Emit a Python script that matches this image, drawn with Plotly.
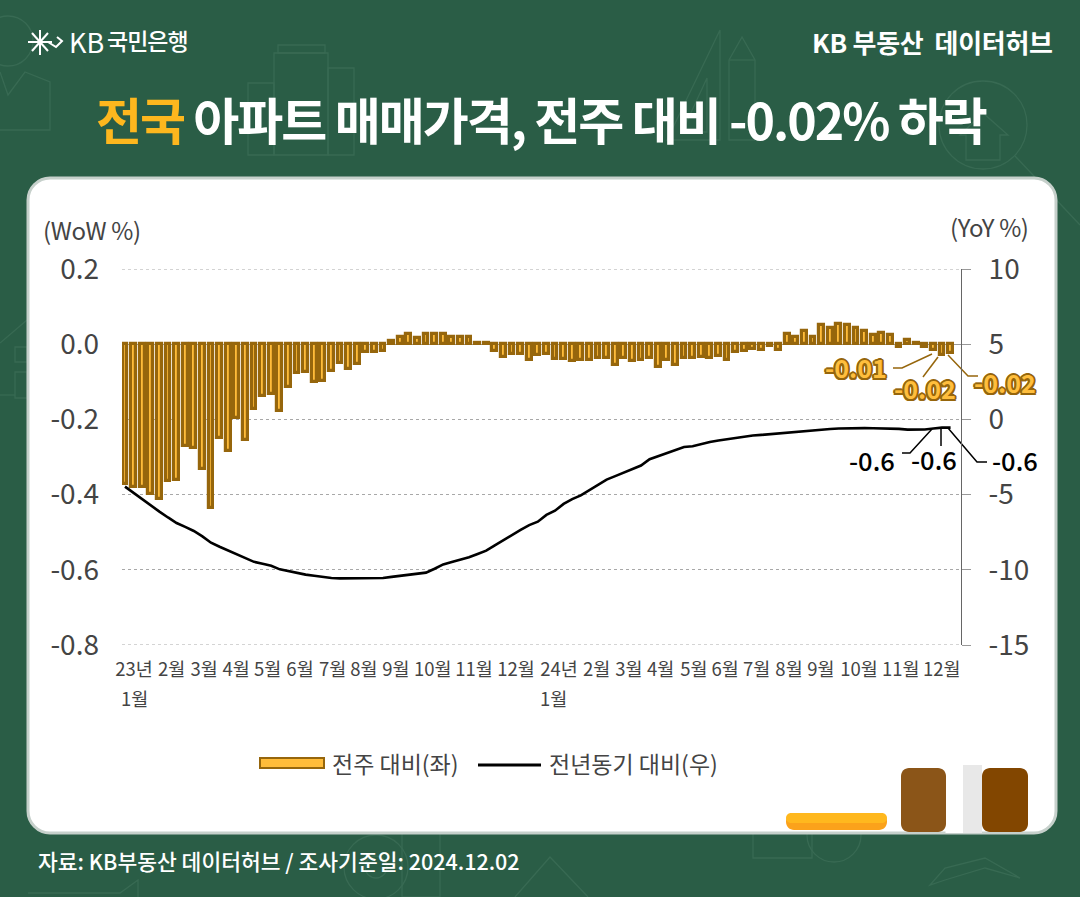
import plotly.graph_objects as go

W, H = 1080, 897
FONT = "Noto Sans CJK KR"

# ---------- data ----------
wow = [-0.372,-0.379,-0.379,-0.398,-0.413,-0.364,-0.361,-0.27,-0.276,-0.332,-0.436,-0.249,-0.283,-0.196,-0.256,
       -0.171,-0.139,-0.132,-0.177,-0.114,-0.076,-0.074,-0.101,-0.099,-0.071,-0.049,-0.065,-0.052,-0.02,-0.02,
       -0.019,0.008,0.02,0.028,0.017,0.028,0.028,0.028,0.02,0.02,0.018,0.004,0.003,-0.017,-0.035,-0.027,-0.025,
       -0.042,-0.03,-0.025,-0.04,-0.04,-0.045,-0.041,-0.042,-0.036,-0.038,-0.055,-0.036,-0.045,-0.041,-0.036,
       -0.061,-0.042,-0.056,-0.038,-0.036,-0.034,-0.036,-0.031,-0.043,-0.02,-0.017,-0.012,-0.015,-0.004,-0.015,
       0.026,0.02,0.036,0.02,0.051,0.042,0.053,0.051,0.042,0.036,0.024,0.031,0.024,-0.008,0.01,0.003,-0.008,
       -0.015,-0.028,-0.024]
yoy = [-4.47,-4.90,-5.33,-5.73,-6.13,-6.52,-6.89,-7.15,-7.42,-7.78,-8.20,-8.47,-8.73,-8.98,-9.22,-9.47,-9.60,
       -9.73,-9.97,-10.10,-10.23,-10.32,-10.40,-10.48,-10.55,-10.57,-10.57,-10.58,-10.57,-10.57,-10.55,-10.47,
       -10.40,-10.33,-10.27,-10.19,-9.93,-9.64,-9.48,-9.33,-9.17,-8.95,-8.73,-8.37,-8.02,-7.67,-7.35,-7.03,-6.80,
       -6.35,-6.07,-5.62,-5.30,-5.05,-4.70,-4.31,-4.00,-3.77,-3.55,-3.33,-3.07,-2.65,-2.45,-2.25,-2.03,-1.84,-1.79,
       -1.63,-1.50,-1.40,-1.31,-1.22,-1.13,-1.07,-1.03,-0.98,-0.92,-0.87,-0.80,-0.75,-0.70,-0.67,-0.64,-0.61,-0.59,
       -0.58,-0.58,-0.59,-0.60,-0.61,-0.63,-0.68,-0.67,-0.67,-0.61,-0.55,-0.55]
weeks = list(range(len(wow)))
month_pos = [1.05,5.43,9.19,12.91,16.59,20.35,24.15,27.79,31.51,35.78,40.58,45.47,
             50.47,54.85,58.6,62.29,66.16,69.77,73.45,77.21,80.93,85.35,90.2,94.97]
month_labels = ["23년","2월","3월","4월","5월","6월","7월","8월","9월","10월","11월","12월",
                "24년","2월","3월","4월","5월","6월","7월","8월","9월","10월","11월","12월"]
left_ticks = [0.2,0.0,-0.2,-0.4,-0.6,-0.8]
left_labels = ["0.2","0.0","-0.2","-0.4","-0.6","-0.8"]
right_ticks = [10,5,0,-5,-10,-15]
right_labels = ["10","5","0","-5","-10","-15"]

# ---------- palette ----------
BG, ICON = "#2A5D46", "#386A53"
BAR_FILL, BAR_LINE = "#FFBC3A", "#96660C"
TXT = "#444444"

# ---------- page-pixel helpers (paper spans the whole page) ----------
X0, X1, Y0, Y1 = 122, 961, 269, 645
def px(x): return x / W
def py(y): return 1 - y / H
def P(pts, close=False):
    s = "M" + " L".join(f"{px(a):.5f},{py(b):.5f}" for a, b in pts)
    return s + (" Z" if close else "")

shapes, notes = [], []
def line_shape(pts, color=ICON, w=1.3, close=False):
    shapes.append(dict(type="path", xref="paper", yref="paper", path=P(pts, close),
                       line=dict(color=color, width=w), layer="below"))
def rect(x0, y0, x1, y1, fill=None, color=ICON, w=1.3):
    shapes.append(dict(type="rect", xref="paper", yref="paper", x0=px(x0), x1=px(x1), y0=py(y0), y1=py(y1),
                       fillcolor=fill or "rgba(0,0,0,0)", line=dict(color=color, width=w), layer="below"))
def circle(cx, cy, r, color=ICON, w=1.3):
    shapes.append(dict(type="circle", xref="paper", yref="paper", x0=px(cx-r), x1=px(cx+r), y0=py(cy+r), y1=py(cy-r),
                       line=dict(color=color, width=w), layer="below"))
def rrect(x0, y0, x1, y1, r, fill, color=None, w=0):
    k = 0.45 * r
    def c(a, b): return f"{px(a):.5f},{py(b):.5f}"
    d = (f"M{c(x0+r,y0)} L{c(x1-r,y0)} C{c(x1-k,y0)} {c(x1,y0+k)} {c(x1,y0+r)} L{c(x1,y1-r)} "
         f"C{c(x1,y1-k)} {c(x1-k,y1)} {c(x1-r,y1)} L{c(x0+r,y1)} C{c(x0+k,y1)} {c(x0,y1-k)} {c(x0,y1-r)} "
         f"L{c(x0,y0+r)} C{c(x0,y0+k)} {c(x0+k,y0)} {c(x0+r,y0)} Z")
    shapes.append(dict(type="path", xref="paper", yref="paper", path=d, fillcolor=fill,
                       line=dict(color=color or fill, width=w), layer="below"))
def text(x, y, s, size, color=TXT, anchor="left", weight=400, shadow=None):
    f = dict(family=FONT, size=size, color=color, weight=weight)
    if shadow: f["shadow"] = shadow
    notes.append(dict(xref="paper", yref="paper", x=px(x), y=py(y), text=s, showarrow=False,
                      xanchor=anchor, yanchor="middle", font=f, borderpad=0, borderwidth=0))
def tight(s, sp, color=None):
    col = f"color:{color};" if color else ""
    return f'<span style="{col}letter-spacing:{sp}px">{s}</span>'

# ---------- faint background icons ----------
circle(8, 41, 25)
line_shape([(0,72),(8,95),(25,72),(50,82),(50,130),(0,130)])
rect(274,53,328,155); rect(278,45,325,53); rect(248,83,274,155); rect(328,68,354,155)
line_shape([(720,30),(667,140),(720,140)], close=True)
line_shape([(707,78),(682,132),(707,132)], close=True)
line_shape([(729,60),(742,37),(755,60),(755,140),(729,140)], close=True)
line_shape([(729,60),(755,60)])
circle(983,125,44)
line_shape([(1015,156),(1080,225)])
line_shape([(960,135),(983,113),(1008,135),(1000,135),(1000,160),(966,160),(966,135)], close=True)
line_shape([(0,343),(27,320)]); rect(15,347,27,362); rect(15,372,27,398); line_shape([(0,395),(15,395)])
circle(376,867,32); circle(376,867,11)
rect(402,832,440,897); rect(753,832,812,858); circle(834,835,27)
line_shape([(515,897),(550,857),(588,897)])
line_shape([(930,885),(945,868),(985,858),(1020,878),(985,868),(945,880)], close=True)
line_shape([(28,893),(120,893),(138,880),(138,897)])

# ---------- card and its decorations ----------
rrect(28,178,1056,833,22,"#FFFFFF","#C6D0CB",3)
rect(945.5,766,963,833,"#FFFFFF","#FFFFFF",0)
rrect(901,768,946,832,8,"#8B5518")
rrect(982,768,1028,832,8,"#824600")
rect(963,765,982,833,"#E8E8E8","#E8E8E8",0)
rrect(786,813,887,830,8,"#FBA21B")
rrect(786,813,887,823,5,"#FFB81E")

# ---------- gridlines at the two ends of the left axis ----------
for v in (left_ticks[0], left_ticks[-1]):
    shapes.append(dict(type="line", xref="paper", yref="y", x0=px(X0), x1=px(X1), y0=v, y1=v,
                       line=dict(color="#A8A8A8", width=1, dash="dot"), layer="below"))

# ---------- logo ----------
for a, b in [((28,42),(52,42)),((32,33),(48,51)),((32,51),(48,33)),((40,30),(40,55))]:
    line_shape([a, b], "#FFFFFF", 2)
line_shape([(48,42),(56,47),(62,41),(57,37)], "#FFFFFF", 2)
text(69,41,"KB",27,"#FFFFFF",weight=400)
text(107,40,tight("국민은행",-1),23,"#FFFFFF",weight=500)
text(1053,41,tight("KB 부동산  데이터허브",-0.3),26,"#FFFFFF","right",700)

# ---------- title ----------
text(541,118,tight("전국",-2,"#FDB71E")+tight(" 아파트 매매가격, 전주 대비 -0.02% 하락",-2),50,"#FFFFFF","center",700)

# ---------- axis captions ----------
text(43,229,tight("(WoW %)",-0.4),24)
text(1029,226,tight("(YoY %)",-0.4),24,anchor="right")

# second row of the January labels
text(134,698,"1월",18.5,anchor="center")
text(553,698,"1월",18.5,anchor="center")

# ---------- data labels ----------
S = ",".join(f"{a}px {b}px 0 {BAR_LINE}" for a, b in
             [(2,0),(-2,0),(0,2),(0,-2),(1.5,1.5),(-1.5,1.5),(1.5,-1.5),(-1.5,-1.5)])
for x, y, s in [(856,367,"-0.01"),(925,388,"-0.02"),(1005,382,"-0.02")]:
    text(x,y,s,25,"#FFBE3D","center",700,S)
for x, y in [(872,460),(934,458),(1015,459)]:
    text(x,y,"-0.6",25.5,"#000000","center",500)
for pts in [[(893,368),(902,368),(932,354)],[(923,377),(938,357)],[(948,355),(968,376),(978,376)]]:
    line_shape(pts, BAR_LINE, 1.5)
for pts in [[(902,453),(910,453),(932,429)],[(941,428),(941,446)],[(948,428),(977,462),(987,462)]]:
    line_shape(pts, "#000000", 1.5)

# ---------- legend ----------
rect(260,758,324,768,BAR_FILL,BAR_LINE,2)
text(332,763,"전주 대비(좌)",23)
line_shape([(478,765),(541,765)],"#000000",3)
text(549,763,"전년동기 대비(우)",23)

# ---------- footer ----------
text(38,860,"자료: KB부동산 데이터허브 / 조사기준일: 2024.12.02",21.5,"#FFFFFF",weight=500)

# ---------- traces ----------
fig = go.Figure()
fig.add_bar(x=weeks, y=wow, width=0.55, yaxis="y", showlegend=False,
            marker=dict(color=BAR_FILL, line=dict(color=BAR_LINE, width=3.2)))
fig.add_scatter(x=weeks, y=yoy, yaxis="y2", mode="lines", showlegend=False,
                line=dict(color="#000000", width=2.6))

fig.update_layout(
    width=W, height=H, margin=dict(l=0, r=0, t=0, b=0, autoexpand=False), autosize=False,
    paper_bgcolor=BG, plot_bgcolor="rgba(0,0,0,0)", bargap=0, showlegend=False,
    font=dict(family=FONT, color=TXT),
    shapes=shapes, annotations=notes,
    xaxis=dict(domain=[X0/W, X1/W], range=[-0.349, 97.21], tickmode="array", tickvals=month_pos,
               ticktext=month_labels, tickangle=0, showgrid=False, zeroline=False, showline=False, ticks="",
               tickfont=dict(family=FONT, size=18.5, color=TXT), ticklabelstandoff=11),
    yaxis=dict(domain=[1-Y1/H, 1-Y0/H], range=[-0.8, 0.2], tickmode="array", tickvals=left_ticks,
               ticktext=left_labels, showgrid=True, gridcolor="#A8A8A8", griddash="dot", gridwidth=1,
               zeroline=True, zerolinecolor="#9A9A9A", zerolinewidth=1, showline=False, ticks="",
               tickfont=dict(family=FONT, size=28, color=TXT), ticklabelstandoff=22),
    yaxis2=dict(overlaying="y", side="right", anchor="x", range=[-15, 10], tickmode="array",
                tickvals=right_ticks, ticktext=right_labels, showgrid=False, zeroline=False, showline=True,
                linecolor="#666666", linewidth=1, ticks="outside", ticklen=9, tickcolor="#999999",
                tickfont=dict(family=FONT, size=28, color=TXT), ticklabelstandoff=12),
)
fig.write_html("out.html", config=dict(displayModeBar=False),
               post_script="document.body.style.margin='0';")
